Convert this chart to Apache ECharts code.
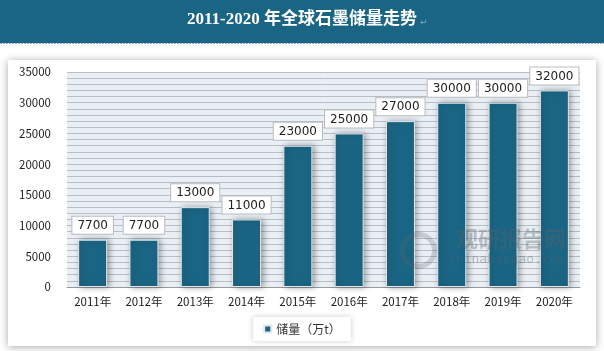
<!DOCTYPE html>
<html>
<head>
<meta charset="utf-8">
<script src="https://cdn.jsdelivr.net/npm/echarts@6/dist/echarts.min.js"></script>
<style>
  * { margin: 0; padding: 0; }
  html, body { width: 604px; height: 351px; background: #fff; }
  #main { width: 604px; height: 351px; }
</style>
</head>
<body>
<div id="main"></div>
<script>
// 数据
var years = ['2011年', '2012年', '2013年', '2014年', '2015年', '2016年', '2017年', '2018年', '2019年', '2020年'];
var reserves = [7700, 7700, 13000, 11000, 23000, 25000, 27000, 30000, 30000, 32000];
var seriesName = '储量（万t）';
var titleText = '2011-2020 年全球石墨储量走势';

var chart = echarts.init(document.getElementById('main'));
chart.setOption({
  backgroundColor: '#fff',
  animation: false,
  graphic: [
    // 标题栏
    { type: 'rect', left: 0, top: 0, z: -10, shape: { width: 604, height: 43 }, style: { fill: '#1b6584' } },
    { type: 'line', z: -9, shape: { x1: 0, y1: 43.5, x2: 604, y2: 43.5 }, style: { stroke: '#9ab', lineWidth: 1, lineDash: [2, 1] } },
    { type: 'text', left: 'center', top: 11, z: 10,
      style: { text: titleText, fill: '#fff', font: 'bold 17px "Liberation Serif", "Noto Sans CJK SC", serif' } },
    { type: 'text', left: 420, top: 18, z: 10,
      style: { text: '↵', fill: '#8aa', font: '9px "DejaVu Sans"' } },
    // 卡片
    { type: 'rect', left: 8, top: 60, z: -10,
      shape: { width: 588, height: 286 },
      style: { fill: '#fff', shadowBlur: 8, shadowColor: 'rgba(0,0,0,0.35)', shadowOffsetX: 0, shadowOffsetY: 1 } },
    // 水印
    { type: 'text', left: 456, top: 228, z: 5,
      style: { text: '观研报告网', fill: 'rgba(90,100,110,0.35)', font: 'bold 22px "Noto Sans CJK SC"' } },
    { type: 'text', left: 448, top: 253, z: 5,
      style: { text: 'chinabaogao.com', fill: 'rgba(90,100,110,0.35)', font: '13px "DejaVu Sans Mono"' } },
    { type: 'circle', left: 400, top: 232, z: 5,
      shape: { r: 16 }, style: { fill: 'none', stroke: 'rgba(90,100,110,0.25)', lineWidth: 5 } }
  ],
  grid: {
    left: 67, right: 24, top: 72, bottom: 64,
    show: true, backgroundColor: '#e9eff5', borderWidth: 0
  },
  legend: {
    bottom: 10, left: 'center',
    itemWidth: 7, itemHeight: 7, icon: 'rect',
    backgroundColor: '#fff', padding: [6, 10],
    shadowBlur: 6, shadowColor: 'rgba(0,0,0,0.2)',
    textStyle: { fontSize: 12, color: '#333', fontFamily: 'Noto Sans CJK SC' },
    data: [seriesName]
  },
  xAxis: {
    type: 'category',
    data: years,
    axisLine: { lineStyle: { color: '#999', width: 1 } },
    axisTick: { show: false },
    axisLabel: { color: '#222', fontSize: 11.5, margin: 9, fontFamily: 'Noto Sans CJK SC' }
  },
  yAxis: {
    type: 'value',
    min: 0, max: 35000, interval: 5000,
    axisLine: { show: false },
    axisTick: { show: false },
    axisLabel: { color: '#222', fontSize: 11.5, margin: 16, fontFamily: 'Noto Sans CJK SC',
      formatter: function (v) { return String(v); } },
    splitLine: { lineStyle: { color: '#b9bec4', width: 1 } },
    minorTick: { show: false, splitNumber: 5 },
    minorSplitLine: { show: true, lineStyle: { color: '#b9bec4', width: 1 } }
  },
  series: [{
    name: seriesName,
    type: 'bar',
    data: reserves,
    barWidth: 29,
    itemStyle: {
      color: '#1b6584',
      borderColor: '#dfe8ee', borderWidth: 1,
      shadowBlur: 6, shadowColor: 'rgba(0,0,0,0.35)', shadowOffsetX: 2, shadowOffsetY: 0
    },
    label: {
      show: true, position: 'top', distance: 6,
      color: '#222', fontSize: 12, fontFamily: 'DejaVu Sans',
      backgroundColor: '#fff', borderColor: '#b8bcc0', borderWidth: 1,
      padding: [3, 5, 2, 5]
    }
  }]
});
</script>
</body>
</html>
